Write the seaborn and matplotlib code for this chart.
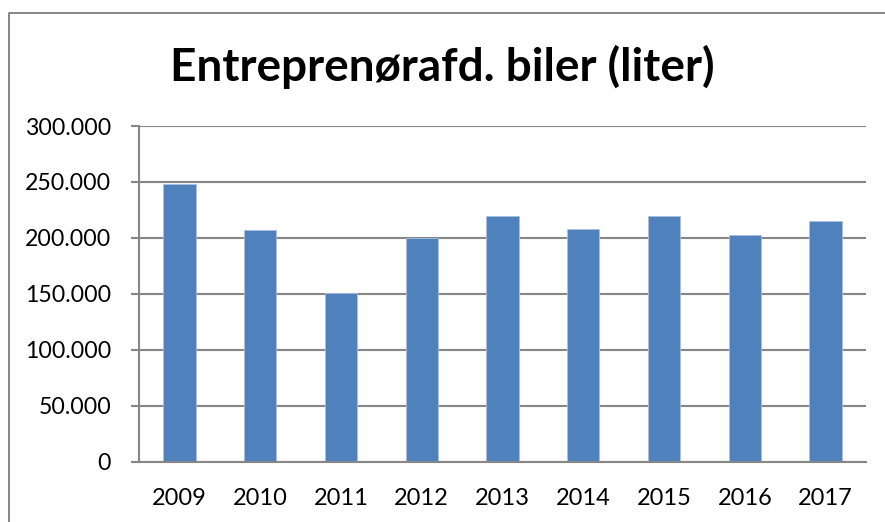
import matplotlib
matplotlib.use("Agg")
import matplotlib.pyplot as plt
import matplotlib.ticker as mticker
import numpy as np
import pandas as pd
import seaborn as sns
from matplotlib.lines import Line2D

years = ["2009", "2010", "2011", "2012", "2013", "2014", "2015", "2016", "2017"]
liters = [248500, 207400, 151200, 200300, 219600, 208000, 219500, 202700, 215400]

df = pd.DataFrame({"year": years, "liters": liters})

sns.set_theme(style="white")
plt.rcParams["font.family"] = ["Lato", "DejaVu Sans"]

grid_color = "#868686"

fig = plt.figure(figsize=(8.85, 5.22), dpi=100)
ax = fig.add_axes([139 / 885, 60 / 522, (866 - 139) / 885, (462 - 126) / 522])

sns.barplot(data=df, x="year", y="liters", color="#4F81BD", width=0.4,
            saturation=1, edgecolor="#A9C0DE", linewidth=0.6, ax=ax)

ax.set_xlim(-0.5, len(years) - 0.5)
ax.set_ylim(0, 300000)
ax.set_yticks(np.arange(0, 300001, 50000))
ax.yaxis.set_major_formatter(mticker.FuncFormatter(
    lambda v, p: "0" if v == 0 else f"{int(v):,}".replace(",", ".")))
ax.yaxis.grid(True, color=grid_color, linewidth=1.5)
ax.set_axisbelow(True)

# ticks between categories, labels at centres
ax.set_xticks(np.arange(-0.5, len(years), 1), minor=True)
ax.tick_params(axis="x", which="major", length=0, pad=19, labelsize=17, colors="black")
ax.tick_params(axis="x", which="minor", length=6, width=1.5, color=grid_color, direction="out")
ax.tick_params(axis="y", length=6, width=1.5, color=grid_color, pad=14,
               labelsize=16.7, labelcolor="black", direction="out", left=True)

for side in ["top", "right"]:
    ax.spines[side].set_visible(False)
for side in ["left", "bottom"]:
    ax.spines[side].set_color(grid_color)
    ax.spines[side].set_linewidth(1.5)

ax.set_xlabel("")
ax.set_ylabel("")

fig.text(0.5, 1 - 67 / 522, "Entreprenørafd. biler (liter)", ha="center", va="center",
         fontsize=33, fontweight="bold", color="black")

# chart frame (only left and top edges are inside the picture)
fx, fy = 9 / 885, 1 - 13 / 522
fig.add_artist(Line2D([fx, fx, 1.2], [-0.1, fy, fy], transform=fig.transFigure,
                      color=grid_color, linewidth=1.4))

fig.savefig("out.png", dpi=100)
